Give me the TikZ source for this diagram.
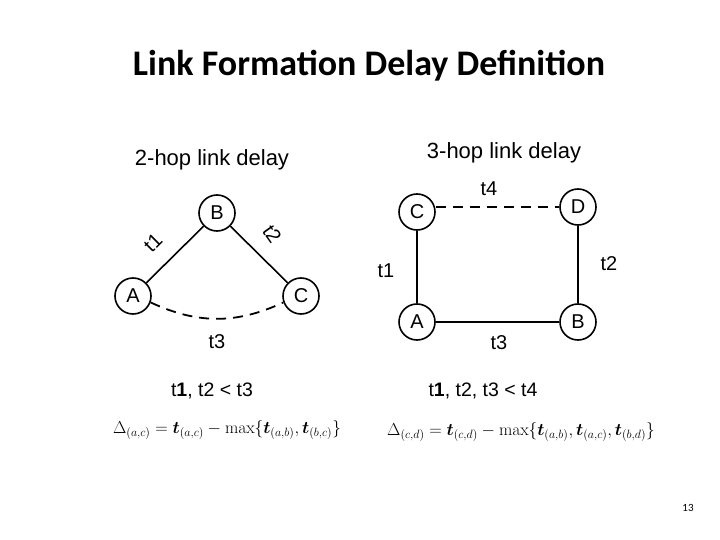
\documentclass[tikz,border=0pt]{standalone}
\usepackage[no-math]{fontspec}
\usepackage{amsmath}
\setmainfont{Liberation Sans}
\newfontfamily\titlefont{Carlito}
\begin{document}
\begin{tikzpicture}[x=1pt,y=1pt,
  vtx/.style={circle,draw,line width=1.6pt,minimum size=36pt,inner sep=0pt,font=\fontsize{20}{23}\selectfont},
  lbl/.style={font=\fontsize{20}{23}\selectfont,inner sep=0pt},
  hdr/.style={font=\fontsize{22}{26}\selectfont,inner sep=0pt},
  cond/.style={font=\fontsize{19.5}{23}\selectfont,inner sep=0pt},
  frm/.style={font=\fontsize{18}{22}\selectfont,inner sep=0pt},
  edge/.style={line width=1.6pt},
  thick edge/.style={line width=2.6pt},
  dash edge/.style={line width=1.8pt,dash pattern=on 10pt off 7pt}]
\useasboundingbox (0,0) rectangle (720,-540);
\node[font=\titlefont\bfseries\fontsize{36}{42}\selectfont,inner sep=0pt] (title) at (369,-66) {Link Formation Delay Definition};
% left
\node[hdr] (h2) at (212,-160) {2-hop link delay};
\node[vtx] (lB) at (217,-213) {B};
\node[vtx] (lA) at (133,-296) {A};
\node[vtx] (lC) at (301,-296) {C};
\draw[edge] (lA) -- (lB);
\draw[edge] (lB) -- (lC);
\draw[dash edge] (lA.-20) to[out=-25,in=-155] (lC.-160);
\node[lbl,rotate=45] (lt1) at (153,-243) {t1};
\node[lbl,rotate=-55] (lt2) at (272,-234) {t2};
\node[lbl] (lt3) at (217,-342) {t3};
\node[cond] (c2) at (212,-391) {t\textbf{1}, t2 < t3};
\node[frm] (f2) at (227,-430) {$\Delta_{(a,c)} = \boldsymbol{t}_{(a,c)} - \max\{\boldsymbol{t}_{(a,b)},\boldsymbol{t}_{(b,c)}\}$};
% right
\node[hdr] (h3) at (504,-153) {3-hop link delay};
\node[vtx] (rC) at (417,-212) {C};
\node[vtx] (rD) at (578,-207) {D};
\node[vtx] (rA) at (417,-322) {A};
\node[vtx] (rB) at (578,-322) {B};
\draw[dash edge] (rC.east |- rD.west) -- (rD.west);
\draw[line width=1.2pt] (rC) -- (rA);
\draw[thick edge] (rA) -- (rB);
\draw[thick edge] (rD) -- (rB);
\node[lbl] (rt4) at (489,-189) {t4};
\node[lbl] (rt1) at (386,-271) {t1};
\node[lbl] (rt2) at (609,-264) {t2};
\node[lbl] (rt3) at (499,-343) {t3};
\node[cond] (c3) at (483,-391) {t\textbf{1}, t2, t3 < t4};
\node[frm] (f3) at (521,-432) {$\Delta_{(c,d)} = \boldsymbol{t}_{(c,d)} - \max\{\boldsymbol{t}_{(a,b)},\boldsymbol{t}_{(a,c)},\boldsymbol{t}_{(b,d)}\}$};
\node[font=\titlefont\fontsize{11}{13}\selectfont,inner sep=0pt] (pg) at (688,-508) {13};
\end{tikzpicture}
\end{document}
